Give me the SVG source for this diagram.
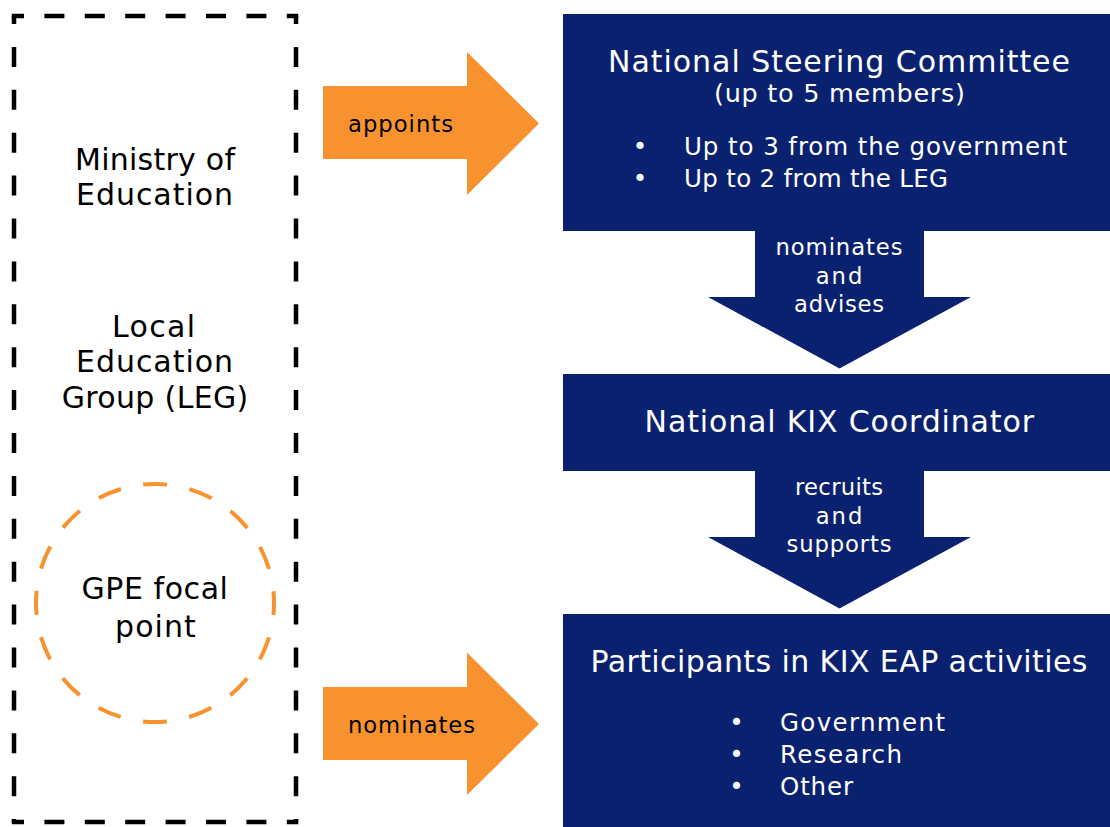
<svg xmlns="http://www.w3.org/2000/svg" width="1110" height="827" viewBox="0 0 1110 827">
<style>
  text { font-family: "DejaVu Sans", "Noto Sans", sans-serif; }
  .navy { fill: #0A2170; }
  .orange { fill: #F7922E; }
  .dk { fill: #000000; }
  .wt { fill: #FFFFFF; }
  .mid { text-anchor: middle; }
  .big { font-size: 30px; }
  .title { font-size: 30px; }
  .sub { font-size: 25.5px; }
  .bul { font-size: 24.5px; }
  .lbl { font-size: 22.7px; }
  .hdash { stroke: #000; stroke-width: 4.5; fill: none; stroke-dasharray: 20 20.4; stroke-dashoffset: 7.75; }
  .vdash { stroke: #000; stroke-width: 4.5; fill: none; stroke-dasharray: 20 22.9; stroke-dashoffset: 12; }
  .odash { stroke: #F7922E; stroke-width: 4; fill: none; stroke-dasharray: 24 22.73; stroke-dashoffset: 12; }
</style>

<g id="country-group">
  <line class="hdash" x1="11.75" y1="16" x2="298.25" y2="16"/>
  <line class="hdash" x1="11.75" y1="822" x2="298.25" y2="822"/>
  <line class="vdash" x1="14" y1="16" x2="14" y2="822"/>
  <line class="vdash" x1="296" y1="16" x2="296" y2="822"/>
</g>

<g id="node-moe">
  <text class="dk mid big" x="155" y="169.5" textLength="160">Ministry of</text>
  <text class="dk mid big" x="154.5" y="205" textLength="157">Education</text>
</g>

<g id="node-leg">
  <text class="dk mid big" x="153.5" y="336.5" textLength="83">Local</text>
  <text class="dk mid big" x="154.5" y="372" textLength="157">Education</text>
  <text class="dk mid big" x="155" y="408" textLength="186.6">Group (LEG)</text>
</g>

<g id="node-gpe">
  <circle class="odash" cx="155" cy="603" r="119"/>
  <text class="dk mid big" x="154.7" y="598.5" textLength="146.5">GPE focal</text>
  <text class="dk mid big" x="155.4" y="636.5" textLength="80.7">point</text>
</g>

<g id="node-nsc">
  <rect class="navy" x="563" y="14" width="547" height="217"/>
  <text class="wt mid title" x="839" y="71.5" textLength="462">National Steering Committee</text>
  <text class="wt mid sub" x="839.5" y="102" textLength="251">(up to 5 members)</text>
  <text class="wt mid bul" x="640" y="155">•</text>
  <text class="wt bul" x="684" y="155" textLength="383">Up to 3 from the government</text>
  <text class="wt mid bul" x="640" y="186.5">•</text>
  <text class="wt bul" x="684" y="186.5" textLength="264">Up to 2 from the LEG</text>
</g>

<g id="node-kix">
  <rect class="navy" x="563" y="374" width="547" height="97"/>
  <text class="wt mid title" x="839.3" y="431.5" textLength="389.4">National KIX Coordinator</text>
</g>

<g id="node-participants">
  <rect class="navy" x="563" y="614" width="547" height="213"/>
  <text class="wt mid title" x="839" y="671.5" textLength="497">Participants in KIX EAP activities</text>
  <text class="wt mid bul" x="736.5" y="730.5">•</text>
  <text class="wt bul" x="780" y="730.5" textLength="165">Government</text>
  <text class="wt mid bul" x="736.5" y="763">•</text>
  <text class="wt bul" x="780" y="763" textLength="122">Research</text>
  <text class="wt mid bul" x="736.5" y="795">•</text>
  <text class="wt bul" x="780" y="795" textLength="73">Other</text>
</g>

<g id="connectors">
  <g id="edge-appoints">
    <polygon class="orange" points="323,86 467,86 467,52 539,123.5 467,195 467,159 323,159"/>
    <text class="dk lbl" x="348" y="132" textLength="105">appoints</text>
  </g>
  <g id="edge-nominates-participants">
    <polygon class="orange" points="323,687 467,687 467,652.5 539,724 467,795 467,760 323,760"/>
    <text class="dk lbl" x="348" y="732.7" textLength="127">nominates</text>
  </g>
  <g id="edge-nsc-kix">
    <polygon class="navy" points="755,230 924,230 924,297 971,297 839.5,368.5 708,297 755,297"/>
    <text class="wt mid lbl" x="839" y="255" textLength="127">nominates</text>
    <text class="wt mid lbl" x="839" y="283.5" textLength="46.7">and</text>
    <text class="wt mid lbl" x="839" y="311.5" textLength="90">advises</text>
  </g>
  <g id="edge-kix-participants">
    <polygon class="navy" points="755,470 924,470 924,537 971,537 839.5,608.5 708,537 755,537"/>
    <text class="wt mid lbl" x="839" y="495" textLength="88">recruits</text>
    <text class="wt mid lbl" x="839" y="524" textLength="46.7">and</text>
    <text class="wt mid lbl" x="839" y="551.5" textLength="105">supports</text>
  </g>
</g>
</svg>
